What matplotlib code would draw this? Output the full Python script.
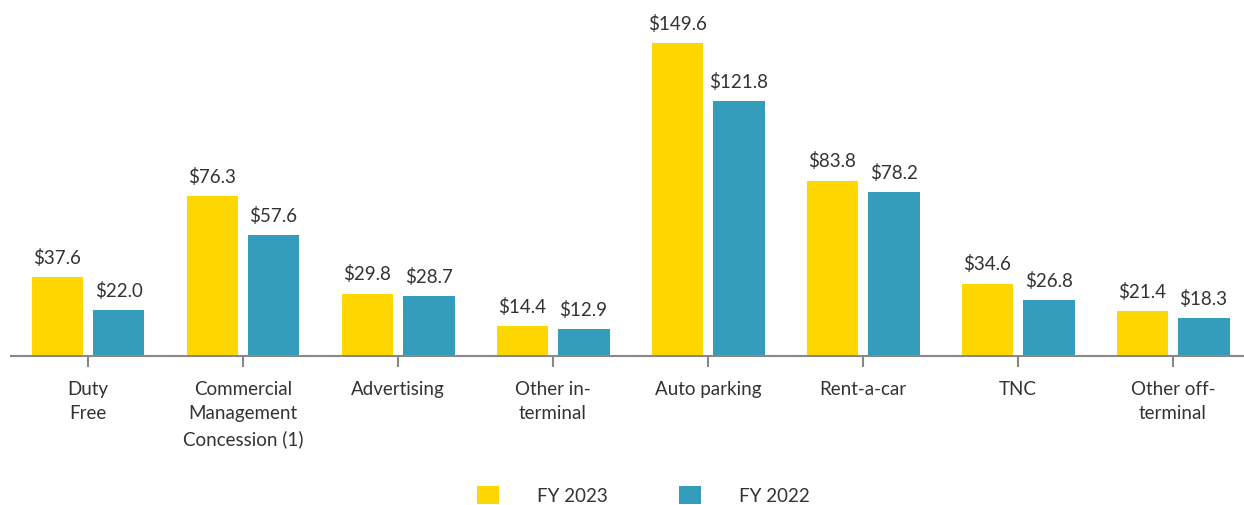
import matplotlib.pyplot as plt
import numpy as np

categories = ["Duty\nFree", "Commercial\nManagement\nConcession (1)", "Advertising",
              "Other in-\nterminal", "Auto parking", "Rent-a-car", "TNC", "Other off-\nterminal"]
fy2023 = [37.6, 76.3, 29.8, 14.4, 149.6, 83.8, 34.6, 21.4]
fy2022 = [22.0, 57.6, 28.7, 12.9, 121.8, 78.2, 26.8, 18.3]

YELLOW = "#FFD700"
BLUE = "#349DBB"
TEXT = "#333333"

plt.rcParams['font.family'] = ['Lato', 'DejaVu Sans']

fig = plt.figure(figsize=(12.44, 5.06), dpi=100)
ax = fig.add_axes([10.5 / 1244, 149 / 506, 1 - 10.5 / 1244, 357 / 506])

x = np.arange(len(categories))
w = 0.335
b1 = ax.bar(x - 0.197, fy2023, w, color=YELLOW, label="FY 2023")
b2 = ax.bar(x + 0.197, fy2022, w, color=BLUE, label="FY 2022")

for bars, vals in ((b1, fy2023), (b2, fy2022)):
    for bar, v in zip(bars, vals):
        ax.annotate("${:.1f}".format(v), (bar.get_x() + bar.get_width() / 2, v),
                    xytext=(0, 8), textcoords="offset points", ha="center", va="bottom",
                    fontsize=13.5, color=TEXT)

ax.set_xlim(-0.5, 7.458)
ax.set_ylim(0, 170.5)
for s in ("top", "right", "left"):
    ax.spines[s].set_visible(False)
ax.spines["bottom"].set_color("#888888")
ax.spines["bottom"].set_linewidth(1.5)
ax.set_yticks([])
ax.set_xticks(x)
ax.set_xticklabels(categories, fontsize=13.5, color=TEXT, linespacing=1.55)
ax.tick_params(axis="x", length=8, width=1.5, color="#888888", pad=9)

fig.legend(handles=[b1, b2], loc="center", bbox_to_anchor=(643 / 1244, 1 - 496 / 506),
           ncol=2, frameon=False, fontsize=13.5, handlelength=1.2, handleheight=1.15,
           handletextpad=2.0, columnspacing=3.8, labelcolor=TEXT)

fig.savefig("out.png", dpi=100)
